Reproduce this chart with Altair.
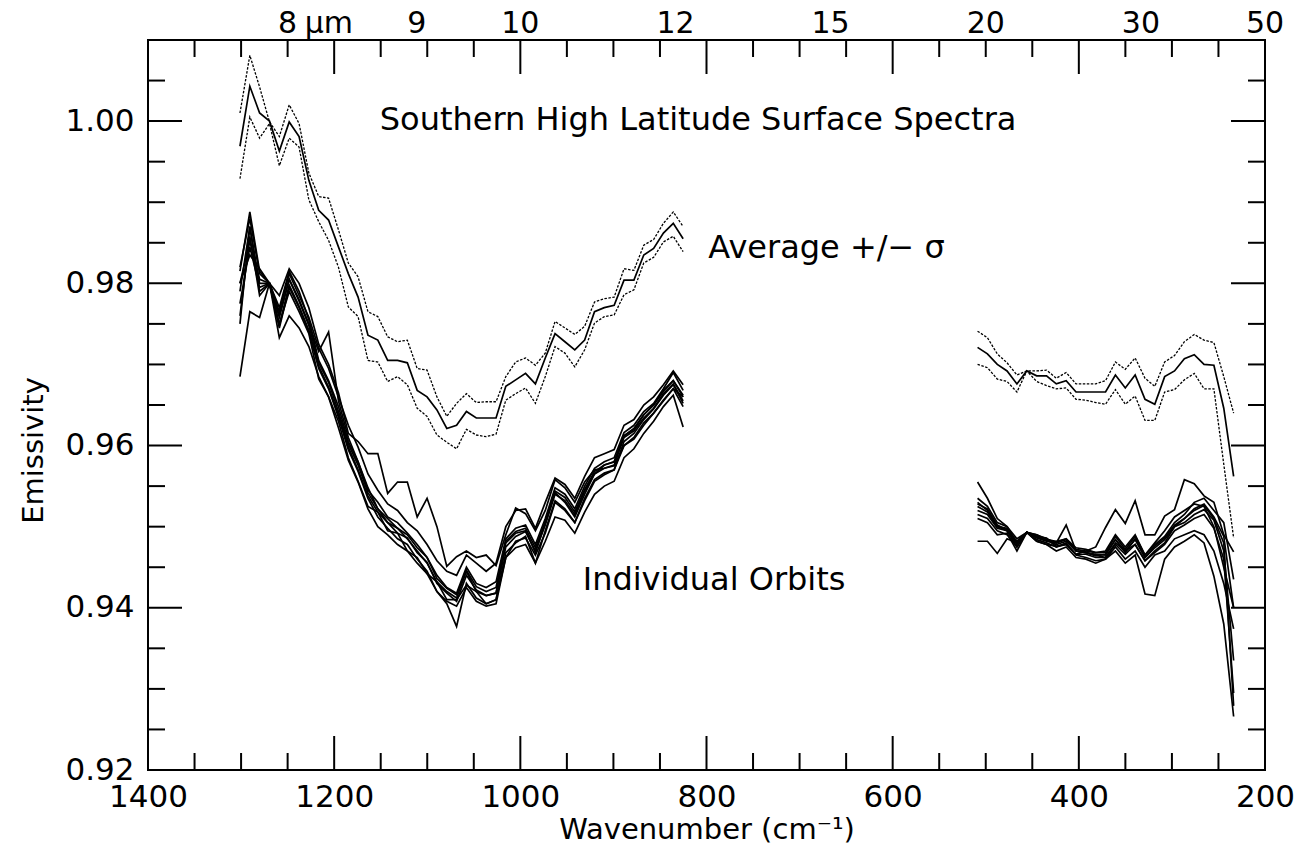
import altair as alt
import pandas as pd

# ---------------- data ----------------
WN_NEAR = [1301.2, 1290.6, 1280.1, 1269.5, 1258.9, 1248.3, 1237.7, 1227.2, 1216.6, 1206.0,
           1195.4, 1184.8, 1174.3, 1163.7, 1153.1, 1142.5, 1131.9, 1121.4, 1110.8, 1100.2,
           1089.6, 1079.0, 1068.5, 1057.9, 1047.3, 1036.7, 1026.1, 1015.6, 1005.0, 994.4,
           983.8, 973.2, 962.7, 952.1, 941.5, 930.9, 920.3, 909.8, 899.2, 888.6,
           878.0, 867.4, 856.8, 846.3, 835.7, 825.1]
WN_FAR = [508.8, 498.2, 487.6, 477.1, 466.5, 455.9, 445.3, 434.7, 424.2, 413.6,
          403.0, 392.4, 381.8, 371.3, 360.7, 350.1, 339.5, 328.9, 318.4, 307.8,
          297.2, 286.6, 276.0, 265.5, 254.9, 244.3, 233.7]

AVG_NEAR = [0.9969, 1.0043, 1.0010, 1.0000, 0.9963, 0.9999, 0.9981, 0.9927, 0.9890, 0.9878,
            0.9845, 0.9812, 0.9783, 0.9736, 0.9730, 0.9705, 0.9705, 0.9702, 0.9668, 0.9660,
            0.9644, 0.9621, 0.9625, 0.9642, 0.9634, 0.9634, 0.9634, 0.9673, 0.9681, 0.9689,
            0.9676, 0.9708, 0.9738, 0.9728, 0.9718, 0.9730, 0.9765, 0.9770, 0.9773, 0.9804,
            0.9804, 0.9835, 0.9843, 0.9862, 0.9874, 0.9855]
PLUS_NEAR = [1.0010, 1.0081, 1.0042, 0.9999, 0.9981, 1.0020, 0.9997, 0.9936, 0.9907, 0.9905,
             0.9866, 0.9825, 0.9808, 0.9765, 0.9759, 0.9734, 0.9728, 0.9730, 0.9695, 0.9693,
             0.9660, 0.9636, 0.9652, 0.9664, 0.9653, 0.9654, 0.9654, 0.9685, 0.9703, 0.9708,
             0.9699, 0.9714, 0.9753, 0.9745, 0.9737, 0.9747, 0.9777, 0.9781, 0.9783, 0.9818,
             0.9816, 0.9847, 0.9854, 0.9874, 0.9888, 0.9870]
MINUS_NEAR = [0.9929, 1.0005, 0.9979, 0.9997, 0.9945, 0.9979, 0.9968, 0.9903, 0.9876, 0.9853,
              0.9820, 0.9771, 0.9759, 0.9705, 0.9703, 0.9679, 0.9685, 0.9675, 0.9646, 0.9636,
              0.9613, 0.9604, 0.9596, 0.9620, 0.9613, 0.9611, 0.9614, 0.9656, 0.9664, 0.9671,
              0.9652, 0.9685, 0.9722, 0.9714, 0.9697, 0.9718, 0.9751, 0.9759, 0.9761, 0.9786,
              0.9792, 0.9825, 0.9832, 0.9851, 0.9858, 0.9839]

AVG_FAR = [0.9721, 0.9713, 0.9700, 0.9692, 0.9676, 0.9692, 0.9686, 0.9686, 0.9676, 0.9680,
           0.9666, 0.9666, 0.9666, 0.9666, 0.9687, 0.9671, 0.9687, 0.9657, 0.9651, 0.9685,
           0.9692, 0.9707, 0.9712, 0.9700, 0.9699, 0.9646, 0.9562]
PLUS_FAR = [0.9741, 0.9733, 0.9713, 0.9702, 0.9687, 0.9692, 0.9692, 0.9693, 0.9683, 0.9690,
            0.9676, 0.9676, 0.9676, 0.9680, 0.9703, 0.9694, 0.9708, 0.9683, 0.9673, 0.9703,
            0.9711, 0.9728, 0.9737, 0.9730, 0.9727, 0.9685, 0.9640]
MINUS_FAR = [0.9700, 0.9696, 0.9682, 0.9679, 0.9666, 0.9692, 0.9679, 0.9674, 0.9670, 0.9671,
             0.9657, 0.9656, 0.9653, 0.9651, 0.9669, 0.9651, 0.9661, 0.9631, 0.9631, 0.9666,
             0.9669, 0.9681, 0.9689, 0.9670, 0.9670, 0.9577, 0.9486]

ORBIT_NEAR = {
    "orbit 1": [0.9815, 0.9888, 0.9815, 0.9800, 0.9770, 0.9815, 0.9790, 0.9755, 0.9705, 0.9680,
                0.9648, 0.9605, 0.9580, 0.9545, 0.9530, 0.9512, 0.9505, 0.9492, 0.9478, 0.9462,
                0.9440, 0.9425, 0.9418, 0.9450, 0.9430, 0.9425, 0.9432, 0.9485, 0.9498, 0.9502,
                0.9478, 0.9510, 0.9548, 0.9540, 0.9522, 0.9550, 0.9572, 0.9580, 0.9585, 0.9616,
                0.9625, 0.9642, 0.9652, 0.9670, 0.9690, 0.9668],
    "orbit 2": [0.9685, 0.9765, 0.9758, 0.9800, 0.9733, 0.9760, 0.9745, 0.9722, 0.9685, 0.9660,
                0.9630, 0.9585, 0.9556, 0.9525, 0.9518, 0.9495, 0.9492, 0.9470, 0.9462, 0.9442,
                0.9432, 0.9410, 0.9410, 0.9428, 0.9420, 0.9405, 0.9410, 0.9462, 0.9482, 0.9486,
                0.9465, 0.9492, 0.9530, 0.9520, 0.9505, 0.9532, 0.9556, 0.9564, 0.9570, 0.9600,
                0.9610, 0.9628, 0.9640, 0.9656, 0.9670, 0.9648],
    "orbit 3": [0.9800, 0.9835, 0.9818, 0.9800, 0.9785, 0.9818, 0.9800, 0.9770, 0.9725, 0.9700,
                0.9665, 0.9615, 0.9605, 0.9590, 0.9590, 0.9541, 0.9555, 0.9555, 0.9512, 0.9535,
                0.9500, 0.9451, 0.9463, 0.9470, 0.9462, 0.9465, 0.9452, 0.9490, 0.9523, 0.9516,
                0.9495, 0.9520, 0.9558, 0.9548, 0.9530, 0.9555, 0.9570, 0.9572, 0.9575, 0.9600,
                0.9608, 0.9625, 0.9640, 0.9655, 0.9670, 0.9660],
    "orbit 4": [0.9790, 0.9870, 0.9800, 0.9800, 0.9760, 0.9805, 0.9780, 0.9750, 0.9716, 0.9740,
                0.9655, 0.9610, 0.9580, 0.9548, 0.9522, 0.9505, 0.9498, 0.9485, 0.9470, 0.9455,
                0.9432, 0.9420, 0.9412, 0.9445, 0.9420, 0.9415, 0.9418, 0.9480, 0.9492, 0.9495,
                0.9468, 0.9505, 0.9542, 0.9530, 0.9512, 0.9540, 0.9565, 0.9576, 0.9580, 0.9612,
                0.9620, 0.9638, 0.9650, 0.9668, 0.9680, 0.9660],
    "orbit 5": [0.9750, 0.9870, 0.9790, 0.9800, 0.9745, 0.9795, 0.9770, 0.9740, 0.9695, 0.9670,
                0.9635, 0.9595, 0.9568, 0.9535, 0.9512, 0.9498, 0.9485, 0.9478, 0.9460, 0.9445,
                0.9420, 0.9405, 0.9377, 0.9430, 0.9412, 0.9405, 0.9410, 0.9468, 0.9480, 0.9488,
                0.9455, 0.9495, 0.9532, 0.9522, 0.9505, 0.9535, 0.9558, 0.9566, 0.9570, 0.9605,
                0.9615, 0.9632, 0.9645, 0.9662, 0.9675, 0.9652],
    "orbit 6": [0.9775, 0.9845, 0.9795, 0.9800, 0.9750, 0.9790, 0.9765, 0.9738, 0.9682, 0.9660,
                0.9622, 0.9582, 0.9555, 0.9522, 0.9500, 0.9490, 0.9478, 0.9470, 0.9455, 0.9442,
                0.9420, 0.9408, 0.9402, 0.9425, 0.9408, 0.9402, 0.9405, 0.9462, 0.9474, 0.9478,
                0.9455, 0.9482, 0.9512, 0.9508, 0.9492, 0.9518, 0.9540, 0.9550, 0.9556, 0.9585,
                0.9596, 0.9615, 0.9630, 0.9648, 0.9662, 0.9623],
    "orbit 7": [0.9820, 0.9880, 0.9812, 0.9800, 0.9765, 0.9812, 0.9785, 0.9758, 0.9720, 0.9695,
                0.9660, 0.9625, 0.9598, 0.9565, 0.9545, 0.9528, 0.9520, 0.9505, 0.9495, 0.9478,
                0.9458, 0.9445, 0.9440, 0.9465, 0.9455, 0.9445, 0.9455, 0.9500, 0.9520, 0.9522,
                0.9498, 0.9530, 0.9560, 0.9552, 0.9535, 0.9562, 0.9585, 0.9590, 0.9595, 0.9625,
                0.9632, 0.9650, 0.9660, 0.9675, 0.9692, 0.9675],
    "orbit 8": [0.9760, 0.9858, 0.9785, 0.9800, 0.9748, 0.9798, 0.9772, 0.9742, 0.9698, 0.9672,
                0.9638, 0.9598, 0.9570, 0.9538, 0.9518, 0.9505, 0.9492, 0.9486, 0.9468, 0.9456,
                0.9430, 0.9418, 0.9408, 0.9440, 0.9422, 0.9415, 0.9418, 0.9475, 0.9488, 0.9494,
                0.9470, 0.9502, 0.9540, 0.9532, 0.9515, 0.9544, 0.9565, 0.9572, 0.9576, 0.9610,
                0.9618, 0.9634, 0.9646, 0.9664, 0.9676, 0.9655],
    "orbit 9": [0.9800, 0.9852, 0.9805, 0.9800, 0.9758, 0.9805, 0.9778, 0.9748, 0.9702, 0.9678,
                0.9642, 0.9602, 0.9576, 0.9542, 0.9522, 0.9510, 0.9498, 0.9490, 0.9474, 0.9462,
                0.9436, 0.9424, 0.9416, 0.9446, 0.9426, 0.9420, 0.9425, 0.9482, 0.9494, 0.9498,
                0.9474, 0.9506, 0.9544, 0.9536, 0.9518, 0.9546, 0.9568, 0.9576, 0.9580, 0.9612,
                0.9621, 0.9638, 0.9650, 0.9667, 0.9680, 0.9662],
}

ORBIT_FAR = {
    "orbit 1": [0.9555, 0.9535, 0.9510, 0.9500, 0.9480, 0.9493, 0.9490, 0.9485, 0.9480, 0.9485,
                0.9472, 0.9470, 0.9468, 0.9470, 0.9490, 0.9475, 0.9490, 0.9465, 0.9480, 0.9495,
                0.9512, 0.9520, 0.9528, 0.9525, 0.9500, 0.9450, 0.9400],
    "orbit 2": [0.9482, 0.9482, 0.9467, 0.9485, 0.9480, 0.9493, 0.9488, 0.9486, 0.9475, 0.9480,
                0.9465, 0.9462, 0.9458, 0.9460, 0.9475, 0.9460, 0.9470, 0.9450, 0.9465, 0.9470,
                0.9485, 0.9490, 0.9495, 0.9490, 0.9470, 0.9430, 0.9374],
    "orbit 3": [0.9530, 0.9520, 0.9500, 0.9495, 0.9475, 0.9493, 0.9484, 0.9480, 0.9475, 0.9478,
                0.9466, 0.9470, 0.9475, 0.9499, 0.9521, 0.9504, 0.9532, 0.9490, 0.9490, 0.9513,
                0.9521, 0.9558, 0.9553, 0.9538, 0.9530, 0.9490, 0.9469],
    "orbit 4": [0.9515, 0.9510, 0.9495, 0.9490, 0.9475, 0.9493, 0.9482, 0.9478, 0.9470, 0.9475,
                0.9462, 0.9460, 0.9455, 0.9460, 0.9470, 0.9455, 0.9465, 0.9417, 0.9415, 0.9460,
                0.9475, 0.9482, 0.9490, 0.9480, 0.9439, 0.9380, 0.9266],
    "orbit 5": [0.9520, 0.9515, 0.9498, 0.9495, 0.9478, 0.9493, 0.9486, 0.9482, 0.9480, 0.9502,
                0.9470, 0.9468, 0.9465, 0.9462, 0.9480, 0.9470, 0.9478, 0.9458, 0.9470, 0.9480,
                0.9500, 0.9505, 0.9515, 0.9521, 0.9508, 0.9470, 0.9335],
    "orbit 6": [0.9525, 0.9518, 0.9500, 0.9498, 0.9480, 0.9493, 0.9487, 0.9483, 0.9478, 0.9482,
                0.9470, 0.9468, 0.9464, 0.9466, 0.9484, 0.9468, 0.9485, 0.9462, 0.9476, 0.9486,
                0.9502, 0.9510, 0.9520, 0.9526, 0.9510, 0.9480, 0.9279],
    "orbit 7": [0.9535, 0.9525, 0.9505, 0.9500, 0.9485, 0.9493, 0.9490, 0.9484, 0.9482, 0.9485,
                0.9474, 0.9472, 0.9468, 0.9468, 0.9488, 0.9472, 0.9488, 0.9465, 0.9478, 0.9488,
                0.9505, 0.9515, 0.9530, 0.9535, 0.9520, 0.9505, 0.9435],
    "orbit 8": [0.9510, 0.9505, 0.9490, 0.9492, 0.9470, 0.9493, 0.9482, 0.9478, 0.9476, 0.9478,
                0.9466, 0.9466, 0.9462, 0.9462, 0.9478, 0.9466, 0.9478, 0.9458, 0.9468, 0.9478,
                0.9495, 0.9502, 0.9510, 0.9515, 0.9498, 0.9460, 0.9295],
    "orbit 9": [0.9528, 0.9522, 0.9502, 0.9496, 0.9482, 0.9493, 0.9488, 0.9484, 0.9480, 0.9484,
                0.9470, 0.9468, 0.9466, 0.9465, 0.9484, 0.9470, 0.9484, 0.9462, 0.9474, 0.9484,
                0.9500, 0.9510, 0.9522, 0.9528, 0.9512, 0.9488, 0.9400],
}

X_LABELS = [1400, 1200, 1000, 800, 600, 400, 200]
X_MINOR = [1350, 1300, 1250, 1150, 1100, 1050, 950, 900, 850, 750, 700, 650, 550, 500, 450, 350, 300, 250]
X_MAJOR = [1200, 1000, 800, 600, 400]
Y_LABELS = [0.92, 0.94, 0.96, 0.98, 1.00]
Y_MAJOR = [0.94, 0.96, 0.98, 1.00]
Y_MINOR = [0.925, 0.93, 0.935, 0.945, 0.95, 0.955, 0.965, 0.97, 0.975, 0.985, 0.99, 0.995, 1.005]
MICRONS = [8, 9, 10, 12, 15, 20, 30, 50]
MICRON_TEXT = ["8", "9", "10", "12", "15", "20", "30", "50"]

NOTES_TEXT = ["Southern High Latitude Surface Spectra", "Average +/\u2212  \u03c3", "Individual Orbits"]
NOTES_WN = [1151, 798, 933]
NOTES_EM = [0.9989, 0.9831, 0.9422]

# ---------------- build tables ----------------
rows = []
def add(series, kind, wn, vals, seg):
    for w, v in zip(wn, vals):
        rows.append({"wn": w, "em": v, "series": series, "kind": kind, "seg": f"{series}|{seg}"})

add("average", "avg", WN_NEAR, AVG_NEAR, "near")
add("average", "avg", WN_FAR, AVG_FAR, "far")
add("plus sigma", "sig", WN_NEAR, PLUS_NEAR, "near")
add("plus sigma", "sig", WN_FAR, PLUS_FAR, "far")
add("minus sigma", "sig", WN_NEAR, MINUS_NEAR, "near")
add("minus sigma", "sig", WN_FAR, MINUS_FAR, "far")
for name, vals in ORBIT_NEAR.items():
    add(name, "orbit", WN_NEAR, vals, "near")
for name, vals in ORBIT_FAR.items():
    add(name, "orbit", WN_FAR, vals, "far")
df = pd.DataFrame(rows)

W, H = 1117, 730
FONT = "DejaVu Sans"
xscale = alt.Scale(domain=[200, 1400], reverse=True, nice=False, zero=False)
yscale = alt.Scale(domain=[0.92, 1.01], nice=False, zero=False)

x_axis = alt.Axis(values=X_LABELS, format="d", ticks=False, domain=False, grid=False,
                  labelFontSize=31, labelFont=FONT, labelColor="black", labelPadding=12,
                  labelFlush=False, labelOverlap=False,
                  title="Wavenumber (cm\u207b\u00b9)", titleFont=FONT, titleFontSize=29,
                  titleFontWeight="normal", titleColor="black", titlePadding=3)
y_axis = alt.Axis(values=Y_LABELS, format=".2f", ticks=False, domain=False, grid=False,
                  labelFontSize=31, labelFont=FONT, labelColor="black", labelPadding=14,
                  labelFlush=False, labelOverlap=False,
                  title="Emissivity", titleFont=FONT, titleFontSize=29, titleY=410,
                  titleFontWeight="normal", titleColor="black", titlePadding=16)

X = lambda f: alt.X(f, scale=xscale, axis=x_axis)
Y = lambda f: alt.Y(f, scale=yscale, axis=y_axis)

base = alt.Chart(df)
orbits = base.transform_filter(alt.datum.kind == "orbit").mark_line(
    color="black", strokeWidth=1.7).encode(x=X("wn:Q"), y=Y("em:Q"), detail="seg:N")
avg = base.transform_filter(alt.datum.kind == "avg").mark_line(
    color="black", strokeWidth=1.7).encode(x=X("wn:Q"), y=Y("em:Q"), detail="seg:N")
sig = base.transform_filter(alt.datum.kind == "sig").mark_line(
    color="black", strokeWidth=1.3, strokeDash=[2.5, 1.5]).encode(
    x=X("wn:Q"), y=Y("em:Q"), detail="seg:N")

# frame ticks (inward)
xmaj = pd.DataFrame({"wn": X_MAJOR})
xmin = pd.DataFrame({"wn": X_MINOR})
ymaj = pd.DataFrame({"em": Y_MAJOR})
ymin = pd.DataFrame({"em": Y_MINOR})
LMAJ, LMIN = 34, 17
tick_layers = []
for d, L in ((xmaj, LMAJ), (xmin, LMIN)):
    tick_layers.append(alt.Chart(d).mark_rule(color="black", strokeWidth=2).encode(
        x=X("wn:Q"), y=alt.value(H), y2=alt.value(H - L)))
    tick_layers.append(alt.Chart(d).mark_rule(color="black", strokeWidth=2).encode(
        x=X("wn:Q"), y=alt.value(0), y2=alt.value(L)))
for d, L in ((ymaj, LMAJ), (ymin, LMIN)):
    tick_layers.append(alt.Chart(d).mark_rule(color="black", strokeWidth=2).encode(
        y=Y("em:Q"), x=alt.value(0), x2=alt.value(L)))
    tick_layers.append(alt.Chart(d).mark_rule(color="black", strokeWidth=2).encode(
        y=Y("em:Q"), x=alt.value(W), x2=alt.value(W - L)))

# top micron labels
mic = pd.DataFrame({"wn": [10000.0 / m for m in MICRONS], "lab": MICRON_TEXT})
top_labels = alt.Chart(mic).mark_text(font=FONT, fontSize=30, color="black",
                                      baseline="alphabetic", align="center").encode(
    x=X("wn:Q"), y=alt.value(-7), text="lab:N")
mu = alt.Chart(pd.DataFrame({"wn": [10000.0 / MICRONS[0]], "lab": ["\u03bcm"]})).mark_text(
    font=FONT, fontSize=30, color="black", baseline="alphabetic", align="left", dx=17).encode(
    x=X("wn:Q"), y=alt.value(-7), text="lab:N")

notes = alt.Chart(pd.DataFrame({"wn": NOTES_WN, "em": NOTES_EM, "txt": NOTES_TEXT})).mark_text(
    font=FONT, fontSize=32, color="black", align="left", baseline="alphabetic").encode(
    x=X("wn:Q"), y=Y("em:Q"), text="txt:N")

chart = alt.layer(orbits, avg, sig, *tick_layers, top_labels, mu, notes).properties(
    width=W, height=H,
    autosize=alt.AutoSizeParams(type="none"),
    padding={"left": 148, "top": 40, "right": 41, "bottom": 83},
    background="white",
).configure_view(stroke="black", strokeWidth=2)

chart.save("out.html", embed_options={"renderer": "svg", "actions": False})
